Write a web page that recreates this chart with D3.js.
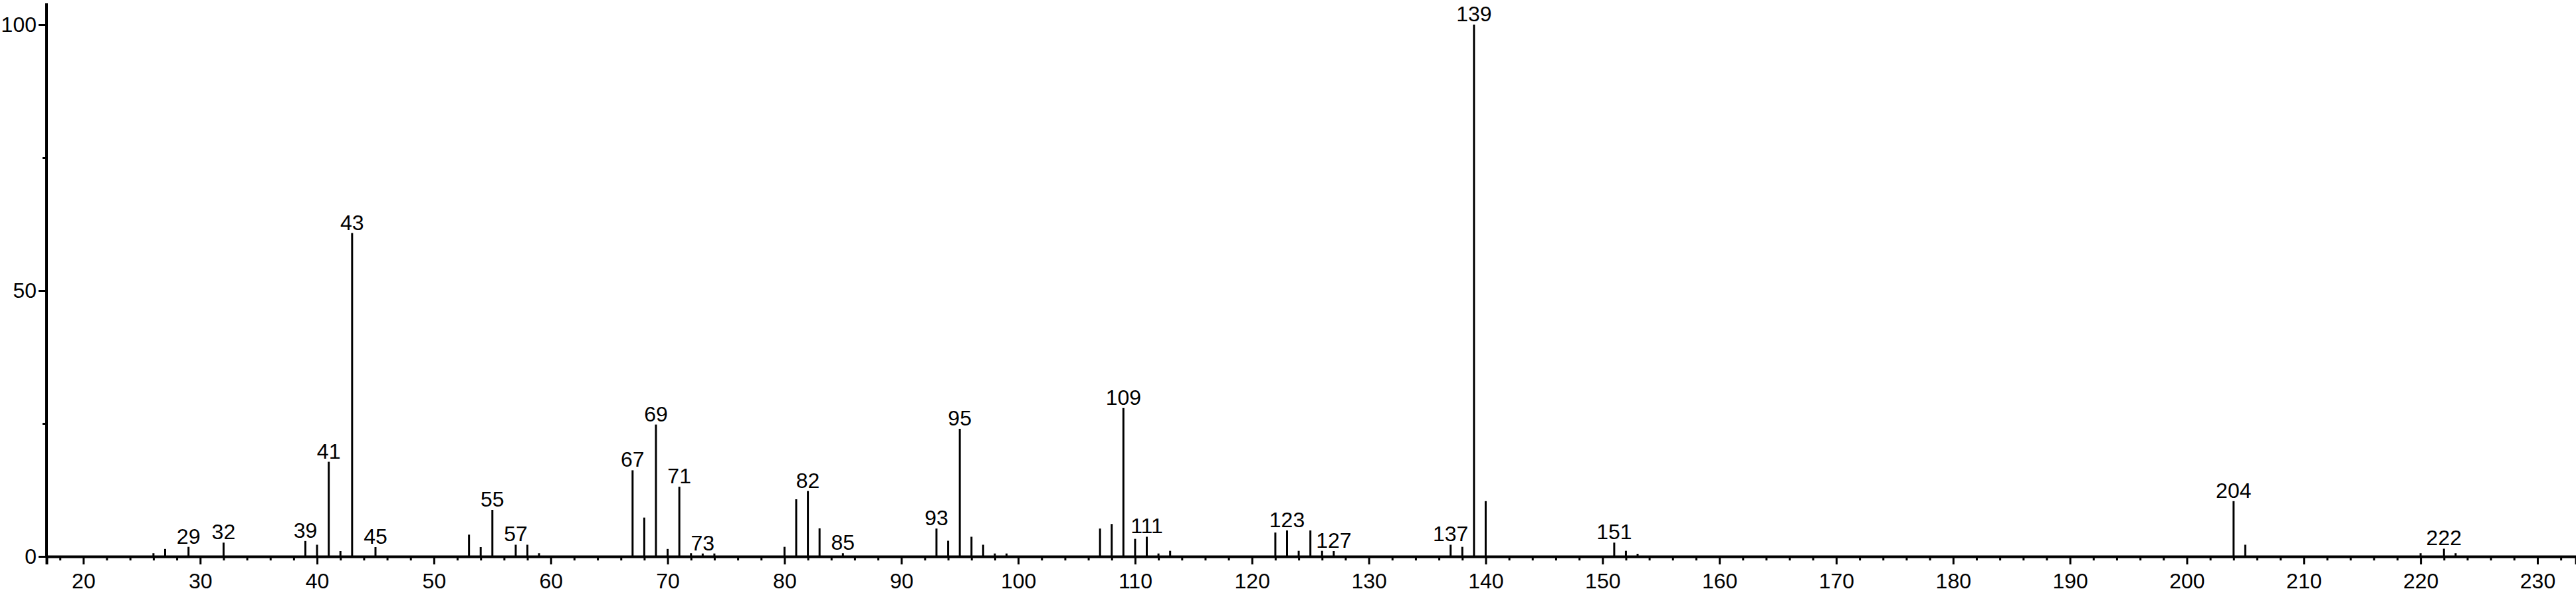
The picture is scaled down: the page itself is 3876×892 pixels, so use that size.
<!DOCTYPE html>
<html>
<head>
<meta charset="utf-8">
<script src="https://cdn.jsdelivr.net/npm/d3@7/dist/d3.min.js"></script>
<style>
  html, body { margin: 0; padding: 0; background: #fff; }
  svg { display: block; }
  text { font-family: "Liberation Sans", Arial, sans-serif; fill: #000; }
</style>
</head>
<body>
<svg id="chart" width="3876" height="892"></svg>
<script>
// m/z values of peaks
const mz = [26, 27, 29, 32, 39, 40, 41, 42, 43, 45,
            53, 54, 55, 57, 58, 59, 67, 68, 69, 70,
            71, 72, 73, 74, 80, 81, 82, 83, 85, 93,
            94, 95, 96, 97, 98, 99, 107, 108, 109, 110,
            111, 112, 113, 122, 123, 124, 125, 126, 127, 137,
            138, 139, 140, 151, 152, 153, 204, 205, 220, 222, 223];
// relative intensities (%)
const intensity = [0.6, 1.4, 1.8, 2.6, 2.9, 2.2, 17.8, 1.0, 60.8, 1.75,
                   4.1, 1.75, 8.75, 2.2, 2.2, 0.6, 16.2, 7.3, 24.8, 1.4,
                   13.1, 0.6, 0.55, 0.55, 1.8, 10.75, 12.3, 5.3, 0.6, 5.25,
                   2.95, 24.0, 3.7, 2.2, 0.55, 0.55, 5.25, 6.1, 27.9, 3.3,
                   3.7, 0.55, 1.05, 4.5, 4.9, 1.05, 4.9, 1.05, 1.0, 2.2,
                   1.8, 100, 10.4, 2.6, 1.05, 0.5, 10.4, 2.2, 0.6, 1.45, 0.6];
// peaks carrying a label
const labeled = [29, 32, 39, 41, 43, 45, 55, 57, 67, 69, 71, 73, 82, 85,
                 93, 95, 109, 111, 123, 127, 137, 139, 151, 204, 222];
// axis ticks
const xMajorTicks = [20, 30, 40, 50, 60, 70, 80, 90, 100, 110, 120, 130, 140, 150,
                     160, 170, 180, 190, 200, 210, 220, 230];
const yMajorTicks = [0, 50, 100];
const yMinorTicks = [25, 75];

const svg = d3.select("#chart");
const x = d3.scaleLinear().domain([16.85, 233.3]).range([70, 3876]);
const y = d3.scaleLinear().domain([0, 104]).range([837, 5]);

const xMinorTicks = d3.range(18, 233, 2).filter(v => v % 10 !== 0);

// minor x ticks
svg.append("g")
  .attr("transform", `translate(0,${y(0)})`)
  .call(d3.axisBottom(x).tickValues(xMinorTicks).tickSize(6).tickFormat(""))
  .call(g => g.select(".domain").remove())
  .call(g => g.selectAll("line").attr("stroke", "#000").attr("stroke-width", 3));

// major x ticks
svg.append("g")
  .attr("transform", `translate(0,${y(0)})`)
  .call(d3.axisBottom(x).tickValues(xMajorTicks).tickSize(12).tickPadding(13).tickFormat(d3.format("d")))
  .call(g => g.select(".domain").attr("stroke", "#000").attr("stroke-width", 4))
  .call(g => g.selectAll("line").attr("stroke", "#000").attr("stroke-width", 3))
  .call(g => g.selectAll("text").attr("font-size", 32).attr("font-family", "Liberation Sans, Arial, sans-serif").attr("fill", "#000"));

// minor y ticks
svg.append("g")
  .attr("transform", `translate(${x.range()[0]},0)`)
  .call(d3.axisLeft(y).tickValues(yMinorTicks).tickSize(6).tickFormat(""))
  .call(g => g.select(".domain").remove())
  .call(g => g.selectAll("line").attr("stroke", "#000").attr("stroke-width", 3));

// major y ticks
svg.append("g")
  .attr("transform", `translate(${x.range()[0]},0)`)
  .call(d3.axisLeft(y).tickValues(yMajorTicks).tickSize(12).tickPadding(3).tickFormat(d3.format("d")))
  .call(g => g.select(".domain").attr("stroke", "#000").attr("stroke-width", 4).attr("d", `M0,${y.range()[1]}V${y(0)}`))
  .call(g => g.selectAll("line").attr("stroke", "#000").attr("stroke-width", 3))
  .call(g => g.selectAll("text").attr("font-size", 32).attr("font-family", "Liberation Sans, Arial, sans-serif").attr("fill", "#000"));

const peaks = mz.map((m, i) => ({ m, v: intensity[i] }));

// sticks
svg.append("g").selectAll("line")
  .data(peaks)
  .join("line")
  .attr("x1", d => x(d.m))
  .attr("x2", d => x(d.m))
  .attr("y1", y(0))
  .attr("y2", d => y(d.v))
  .attr("stroke", "#000")
  .attr("stroke-width", 3);

// labels
svg.append("g").selectAll("text")
  .data(peaks.filter(d => labeled.includes(d.m)))
  .join("text")
  .attr("x", d => x(d.m))
  .attr("y", d => y(d.v) - 5)
  .attr("text-anchor", "middle")
  .attr("font-size", 32)
  .text(d => d.m);
</script>
</body>
</html>
